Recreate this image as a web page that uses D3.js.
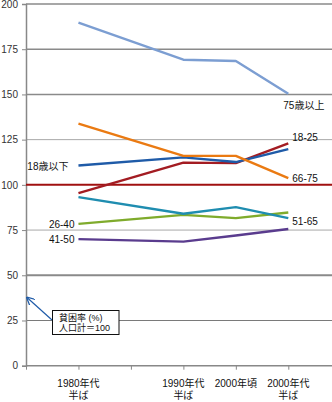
<!DOCTYPE html>
<html><head><meta charset="utf-8">
<script src="https://cdn.jsdelivr.net/npm/d3@7/dist/d3.min.js"></script>
<style>
html,body{margin:0;padding:0;background:#fff;}
svg{display:block;font-family:"Liberation Sans","Noto Sans CJK JP",Arial,sans-serif;}
</style></head>
<body>
<script>
// ---- data ----
const years = [1985, 1995, 2000, 2005];
const xTickLabels = [["1980年代","半ば"],["1990年代","半ば"],["2000年頃",""],["2000年代","半ば"]];
const yTicks = [0, 25, 50, 75, 100, 125, 150, 175, 200];
const seriesNames = ["75歳以上","66-75","18-25","18歳以下","51-65","26-40","41-50"];
const s75plus  = [189.7, 169.2, 168.5, 150.4];
const s66_75   = [133.8, 116.0, 116.0, 103.7];
const s18_25   = [95.4, 112.3, 112.0, 123.0];
const sUnder18 = [110.7, 115.2, 112.6, 119.8];
const s51_65   = [93.2, 84.0, 87.7, 81.6];
const s26_40   = [78.4, 83.4, 81.6, 84.7];
const s41_50   = [70.0, 68.6, 72.0, 75.6];
const refValue = 100;
const noteLines = ["貧困率 (%)","人口計＝100"];

const W = 332, H = 402;
const svg = d3.select("body").append("svg").attr("width", W).attr("height", H);

const x = d3.scaleLinear().domain([1980, 2005]).range([26, 288.3]);
const y = d3.scaleLinear().domain([0, 200]).range([365.7, 4]);

// gridlines
const gridStyle = {200:["#8a8a8a",1.5],175:["#8a8a8a",1.5],150:["#8a8a8a",1.5],125:["#a8a8a8",1],75:["#a8a8a8",1],50:["#8a8a8a",2],25:["#7a7a7a",1.2]};
yTicks.filter(t => t > 0 && t !== refValue).forEach(t => {
  svg.append("line").attr("x1", x(1980)).attr("x2", W)
    .attr("y1", y(t)).attr("y2", y(t))
    .attr("stroke", gridStyle[t][0]).attr("stroke-width", gridStyle[t][1]);
});

// y axis
const yAxis = d3.axisLeft(y).tickValues(yTicks).tickSize(4).tickPadding(4);
const gy = svg.append("g").attr("transform", `translate(${x(1980)},0)`).call(yAxis);
gy.select(".domain").attr("stroke", "#888").attr("stroke-width", 1.5);
gy.selectAll(".tick line").attr("stroke", "#888");
gy.selectAll(".tick text").attr("font-size", 10).attr("fill", "#333")
  .attr("font-family", "Liberation Sans, Arial, sans-serif");

// x axis
const xAxis = d3.axisBottom(x).tickValues([1980,1985,1990,1995,2000,2005]).tickSize(4).tickFormat("");
const gx = svg.append("g").attr("transform", `translate(0,${y(0)})`).call(xAxis);
gx.select(".domain").attr("stroke", "#888").attr("stroke-width", 1.5).attr("d", `M${x(1980)},0H${W}`);
gx.selectAll(".tick line").attr("stroke", "#888");

// x labels
years.forEach((yr, i) => {
  const t = svg.append("text").attr("x", x(yr)).attr("text-anchor", "middle")
    .attr("font-size", 10).attr("fill", "#111");
  t.append("tspan").attr("x", x(yr)).attr("y", 387).text(xTickLabels[i][0]);
  if (xTickLabels[i][1]) t.append("tspan").attr("x", x(yr)).attr("y", 399).text(xTickLabels[i][1]);
});

// reference line 100
svg.append("line").attr("x1", x(1980)).attr("x2", W)
  .attr("y1", y(refValue)).attr("y2", y(refValue))
  .attr("stroke", "#a01010").attr("stroke-width", 2);

// series lines
const series = [
  {vals: s41_50, color: "#5a3c8e"},
  {vals: s26_40, color: "#7fab2c"},
  {vals: s51_65, color: "#1f8db0"},
  {vals: s18_25, color: "#a31c22"},
  {vals: sUnder18, color: "#1f5ba8"},
  {vals: s66_75, color: "#ea7a12"},
  {vals: s75plus, color: "#7c9ed2"}
];
const line = d3.line().x((d, i) => x(years[i])).y(d => y(d));
series.forEach(s => {
  svg.append("path").attr("d", line(s.vals)).attr("fill", "none")
    .attr("stroke", s.color).attr("stroke-width", 2.4).attr("stroke-linejoin", "round");
});

// series labels
const lab = (txt, lx, ly, anchor) => svg.append("text").attr("x", lx).attr("y", ly)
  .attr("text-anchor", anchor).attr("font-size", 10).attr("fill", "#111").text(txt);
lab(seriesNames[0], x(2005) - 5, y(s75plus[3]) + 15, "start");
lab(seriesNames[1], x(2005) + 4, y(s66_75[3]) + 4, "start");
lab(seriesNames[2], x(2005) + 4, y(s18_25[3]) - 2, "start");
lab(seriesNames[3], x(1985) - 10, y(sUnder18[0]) + 5, "end");
lab(seriesNames[4], x(2005) + 4, y(s51_65[3]) + 7, "start");
lab(seriesNames[5], x(1985) - 4, y(s26_40[0]) + 4, "end");
lab(seriesNames[6], x(1985) - 4, y(s41_50[0]) + 4, "end");

// annotation box with arrow
const defs = svg.append("defs");
defs.append("marker").attr("id", "ah").attr("viewBox", "0 0 10 10").attr("refX", 9).attr("refY", 5)
  .attr("markerWidth", 7).attr("markerHeight", 7).attr("orient", "auto")
  .append("path").attr("d", "M0,0L10,5L0,10").attr("fill", "none").attr("stroke", "#1f5ba8").attr("stroke-width", 1.5);
svg.append("line").attr("x1", 52).attr("y1", 320).attr("x2", 27).attr("y2", 297.5)
  .attr("stroke", "#1f5ba8").attr("stroke-width", 1.2).attr("marker-end", "url(#ah)");
svg.append("rect").attr("x", 52.5).attr("y", 310.5).attr("width", 66.5).attr("height", 24)
  .attr("fill", "#fff").attr("stroke", "#111").attr("stroke-width", 1);
noteLines.forEach((t, i) => {
  svg.append("text").attr("x", 59).attr("y", 321 + i * 10).attr("font-size", 9)
    .attr("fill", "#111").text(t);
});
</script>
</body></html>
